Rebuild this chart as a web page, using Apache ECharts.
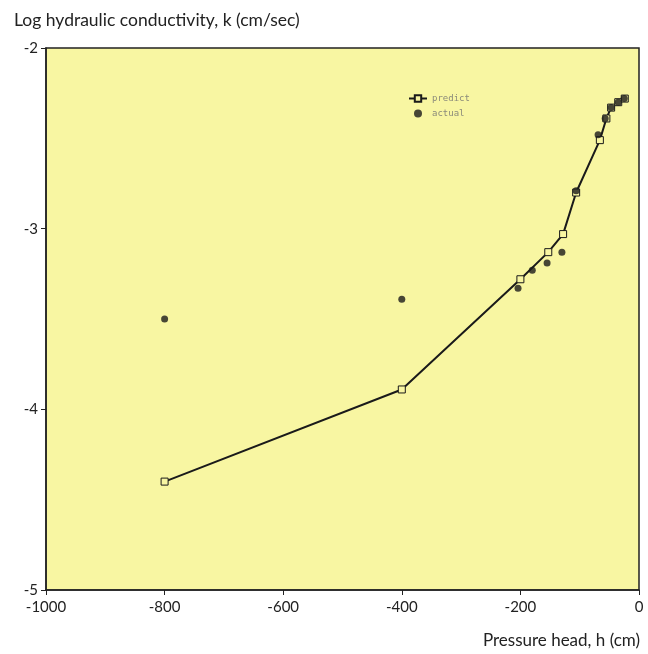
<!DOCTYPE html>
<html>
<head>
<meta charset="utf-8">
<script src="https://cdn.jsdelivr.net/npm/echarts@6/dist/echarts.min.js"></script>
<style>
  html, body { margin: 0; padding: 0; background: #fff; }
  #chart { width: 648px; height: 654px; }
</style>
</head>
<body>
<div id="chart"></div>
<script>
// pressure head h (cm) and log k
const predictH = [-800, -400, -200, -153, -128, -106, -66, -55, -47, -35, -24];
const predictK = [-4.40, -3.89, -3.28, -3.13, -3.03, -2.80, -2.51, -2.39, -2.33, -2.30, -2.28];

const actualH = [-800, -400, -204, -180, -155, -130, -106, -69, -57, -47, -35, -25];
const actualK = [-3.50, -3.39, -3.33, -3.23, -3.19, -3.13, -2.79, -2.48, -2.39, -2.33, -2.30, -2.28];

const xTicks = [-1000, -800, -600, -400, -200, 0];
const yTicks = [-5, -4, -3, -2];

const labelFont = 'Lato, "Open Sans", sans-serif';

const chart = echarts.init(document.getElementById('chart'));
chart.setOption({
  backgroundColor: '#ffffff',
  animation: false,
  title: [
    {
      text: 'Log hydraulic conductivity, k (cm/sec)',
      left: 9,
      top: 6,
      textStyle: { fontFamily: labelFont, fontSize: 17.5, fontWeight: 'normal', color: '#222' }
    },
    {
      text: 'Pressure head, h (cm)',
      right: 3,
      top: 627,
      textStyle: { fontFamily: labelFont, fontSize: 17, fontWeight: 'normal', color: '#222' }
    }
  ],
  legend: {
    orient: 'vertical',
    left: 403,
    top: 89,
    itemGap: 6,
    itemWidth: 18,
    itemHeight: 8,
    textStyle: { fontSize: 9, color: '#8a8a7a', fontFamily: 'DejaVu Sans Mono, monospace' },
    data: ['predict', 'actual']
  },
  grid: {
    left: 46,
    right: 9,
    top: 48,
    bottom: 64,
    show: true,
    backgroundColor: '#f8f6a2',
    borderColor: '#222',
    borderWidth: 1.5
  },
  xAxis: {
    type: 'value',
    min: xTicks[0],
    max: xTicks[xTicks.length - 1],
    interval: 200,
    splitLine: { show: false },
    axisLine: { onZero: false, lineStyle: { color: '#222', width: 1.5 } },
    axisTick: { show: true, length: 5, lineStyle: { color: '#222' } },
    axisLabel: {
      fontFamily: labelFont, fontSize: 15, color: '#222', margin: 10,
      formatter: (v) => String(v)
    }
  },
  yAxis: {
    type: 'value',
    min: yTicks[0],
    max: yTicks[yTicks.length - 1],
    interval: 1,
    splitLine: { show: false },
    axisLine: { onZero: false, lineStyle: { color: '#222', width: 1.5 } },
    axisTick: { show: true, length: 5, lineStyle: { color: '#222' } },
    axisLabel: { fontFamily: labelFont, fontSize: 15, color: '#222', margin: 8 }
  },
  series: [
    {
      name: 'predict',
      type: 'line',
      data: predictH.map((h, i) => [h, predictK[i]]),
      symbol: 'rect',
      symbolSize: 7,
      showAllSymbol: true,
      lineStyle: { color: '#1a1a1a', width: 2 },
      itemStyle: { color: '#f8f6a2', borderColor: '#1a1a1a', borderWidth: 1 },
      z: 2
    },
    {
      name: 'actual',
      type: 'scatter',
      data: actualH.map((h, i) => [h, actualK[i]]),
      symbol: 'circle',
      symbolSize: 7,
      itemStyle: { color: '#1a1a1a' },
      z: 3
    }
  ]
});
</script>
</body>
</html>
